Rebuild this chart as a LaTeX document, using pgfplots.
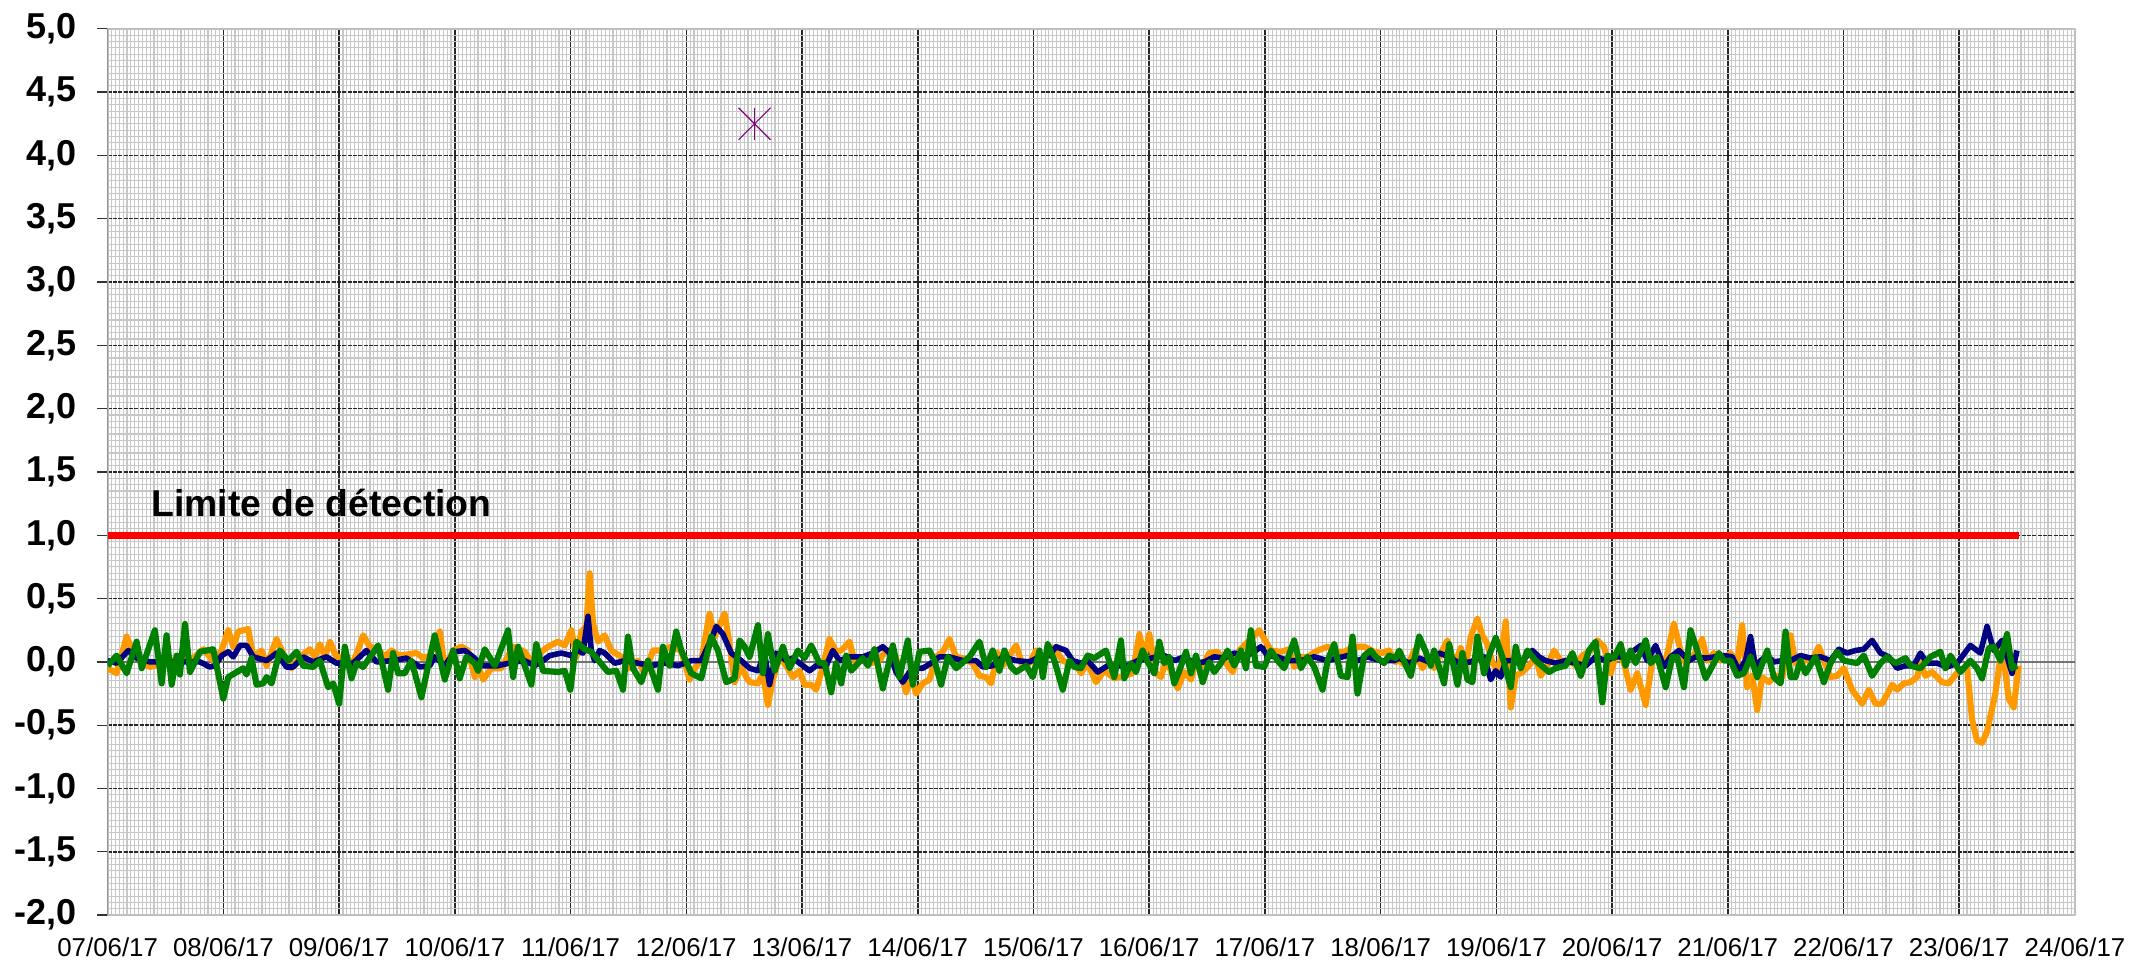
\documentclass[border=0pt]{standalone}
\usepackage{fontspec}
\setmainfont{Liberation Sans}
\usepackage{pgfplots}
\pgfplotsset{compat=1.18}
\definecolor{navyc}{RGB}{0,0,128}
\definecolor{orangec}{RGB}{255,153,0}
\definecolor{greenc}{RGB}{0,128,0}
\definecolor{purplec}{RGB}{128,0,128}
\begin{document}
\begin{tikzpicture}
\begin{axis}[
  at={(0,0)}, anchor=south west,
  scale only axis, width=738pt, height=332.5pt,
  xmin=0, xmax=17, ymin=-2, ymax=5,
  xtick={0,1,...,17},
  xticklabels={07/06/17,08/06/17,09/06/17,10/06/17,11/06/17,12/06/17,13/06/17,14/06/17,15/06/17,16/06/17,17/06/17,18/06/17,19/06/17,20/06/17,21/06/17,22/06/17,23/06/17,24/06/17},
  ytick={-2,-1.5,-1,-0.5,0,0.5,1,1.5,2,2.5,3,3.5,4,4.5,5},
  yticklabels={{-2,0},{-1,5},{-1,0},{-0,5},{0,0},{0,5},{1,0},{1,5},{2,0},{2,5},{3,0},{3,5},{4,0},{4,5},{5,0}},
  minor x tick num=29, minor y tick num=9,
  grid=both,
  minor x grid style={black!22, line width=0.4pt},
  minor y grid style={black!22, line width=0.4pt},
  major x grid style={black!85, line width=0.6pt},
  major y grid style={black!85, line width=0.55pt, dash pattern=on 1.5pt off 0.5pt},
  axis line style={black!25, line width=0.8pt},
  tick align=outside,
  major tick length=4pt, minor tick length=0pt,
  xtick style={draw=none},
  ytick style={black!80, line width=0.5pt},
  ytick pos=left, xtick pos=bottom,
  xticklabel style={font=\fontsize{9.7}{11.6}\selectfont, yshift=-0.9pt},
  yticklabel style={font=\bfseries\fontsize{13.5}{16}\selectfont, xshift=-4.3pt},
  line join=round,
]
\draw[black!55, line width=0.7pt] (axis cs:0,0) -- (axis cs:17,0);
\draw[black!75, line width=0.6pt] (rel axis cs:0,0) -- (rel axis cs:0,1);

\addplot[orangec, line width=2.3pt, line join=round] coordinates {
(0,-0.05) (0.077,-0.09) (0.164,0.2) (0.221,0.07) (0.308,-0.01) (0.365,-0.04) (0.509,0) (0.624,0.03) (0.711,0.01) (0.826,0.1) (0.912,0.01) (0.984,0.09) (1.042,0.25) (1.085,0.12) (1.128,0.24) (1.214,0.26) (1.258,0.04) (1.33,0.09) (1.373,-0.03) (1.459,0.18) (1.531,0.04) (1.589,-0.05) (1.661,0.04) (1.747,0.1) (1.79,0.04) (1.833,0.14) (1.877,0.04) (1.92,0.16) (1.977,0.04) (2.064,0.03) (2.121,-0.01) (2.208,0.21) (2.265,0.12) (2.337,0.1) (2.395,0.04) (2.452,0.09) (2.524,0.05) (2.668,0.07) (2.726,0.03) (2.783,0.05)
(2.87,0.24) (2.913,-0.05) (2.985,0.09) (3.057,0.12) (3.114,0.09) (3.172,-0.12) (3.2,-0.03) (3.244,-0.14) (3.316,-0.05) (3.402,-0.05) (3.503,0.12) (3.604,0.08) (3.661,0) (3.733,0.07) (3.805,0.12) (3.891,0.16) (3.949,0.13) (4.007,0.25) (4.05,0.04) (4.093,0.24) (4.136,0.28) (4.165,0.70) (4.194,0.3) (4.237,0.16) (4.294,0.21) (4.352,0.09) (4.438,0.04) (4.51,-0.05) (4.582,0.01) (4.64,-0.09) (4.712,0.09) (4.784,0.09) (4.87,0.12) (4.956,0.09) (5.028,-0.14) (5.072,-0.05) (5.129,0.01) (5.201,0.38) (5.244,0.2) (5.331,0.38) (5.374,0.14) (5.417,-0.16) (5.475,-0.04) (5.518,-0.12)
(5.547,-0.16) (5.619,-0.17) (5.662,-0.09) (5.705,-0.34) (5.748,-0.14) (5.806,0.04) (5.863,-0.03) (5.921,-0.12) (5.978,-0.07) (6.022,-0.18) (6.079,-0.18) (6.122,-0.22) (6.18,-0.04) (6.237,0.18) (6.295,0.08) (6.338,0.09) (6.381,0.13) (6.41,0.16) (6.453,0.01) (6.525,0.01) (6.583,-0.01) (6.655,0) (6.727,0.09) (6.784,0.1) (6.842,-0.05) (6.9,-0.24) (6.943,-0.12) (6.986,-0.25) (7.043,-0.17) (7.101,-0.14) (7.159,0.04) (7.216,0.08) (7.274,0.18) (7.331,0.04) (7.389,0.03) (7.475,-0.01) (7.533,-0.11) (7.59,-0.12) (7.633,-0.17) (7.691,0.07) (7.734,-0.03) (7.806,0.07) (7.85,0.13) (7.907,-0.03) (7.965,-0.01) (8.022,0.09) (8.08,0) (8.137,0.12) (8.195,0.09) (8.252,0.01) (8.31,-0.01)
(8.353,0) (8.411,-0.09) (8.468,-0.01) (8.54,-0.16) (8.612,-0.07) (8.699,-0.13) (8.785,-0.11) (8.857,-0.09) (8.915,0.22) (8.958,0.04) (9.001,0.22) (9.058,-0.09) (9.102,-0.12) (9.145,0.01) (9.188,-0.07) (9.246,-0.21) (9.303,-0.08) (9.361,-0.14) (9.404,0.01) (9.461,-0.03) (9.519,0.07) (9.591,0.08) (9.663,-0.01) (9.721,-0.08) (9.778,0.09) (9.821,0.13) (9.879,0.18) (9.951,0.25) (10.008,0.16) (10.052,0.09) (10.138,0.08) (10.21,0.1) (10.253,-0.04) (10.311,0.04) (10.368,0.04) (10.455,0.09) (10.541,0.12) (10.627,0.08) (10.685,0.08) (10.771,0.12) (10.858,0.12) (10.944,0.08) (11.001,0.07) (11.073,0.09) (11.131,0)
(11.16,0.01) (11.232,-0.04) (11.289,0.09) (11.361,-0.05) (11.419,0.04) (11.462,-0.05) (11.52,0.07) (11.577,0.17) (11.635,-0.03) (11.692,0.11) (11.735,-0.04) (11.779,0.2) (11.836,0.34) (11.879,0.21) (11.923,0.14) (11.966,-0.01) (12.023,-0.07) (12.081,0.32) (12.124,-0.36) (12.167,-0.11) (12.225,-0.08) (12.282,-0.03) (12.34,0.04) (12.383,-0.11) (12.441,-0.03) (12.498,0.09) (12.556,0.01) (12.628,0.01) (12.685,-0.03) (12.743,0.05) (12.815,0.09) (12.872,0.17) (12.93,0.12) (12.988,-0.09) (13.045,0.09) (13.103,-0.01) (13.16,-0.22) (13.218,-0.09) (13.29,-0.34) (13.347,0.01) (13.391,0.04) (13.463,0.01) (13.534,0.3) (13.592,0.09) (13.635,-0.01) (13.693,0.03) (13.779,0.18) (13.822,0.01) (13.88,0.07) (13.938,0.01)
(14.024,0.07) (14.081,-0.01) (14.124,0.29) (14.167,-0.2) (14.211,-0.11) (14.254,-0.38) (14.297,-0.12) (14.355,-0.16) (14.412,-0.11) (14.47,-0.12) (14.542,0.21) (14.585,-0.01) (14.628,-0.04) (14.671,0.04) (14.714,-0.01) (14.786,0.12) (14.83,0.01) (14.887,-0.12) (14.945,-0.11) (15.002,-0.05) (15.074,-0.22) (15.161,-0.33) (15.218,-0.22) (15.276,-0.33) (15.333,-0.33) (15.42,-0.18) (15.463,-0.22) (15.52,-0.17) (15.578,-0.16) (15.636,-0.12) (15.664,-0.01) (15.708,-0.11) (15.765,-0.08) (15.851,-0.16) (15.909,-0.17) (15.995,-0.07) (16.067,-0.04) (16.11,-0.45) (16.153,-0.62) (16.197,-0.64) (16.24,-0.55) (16.312,-0.25) (16.37,0.13) (16.427,-0.29) (16.47,-0.36) (16.514,-0.03)
};

\addplot[navyc, line width=2.1pt, line join=round] coordinates {
(0,0.01) (0.077,-0.01) (0.178,0.09) (0.25,0.03) (0.365,0) (0.509,0) (0.682,0) (0.797,0) (0.883,-0.04) (0.927,-0.03) (0.984,0.05) (1.042,0.08) (1.085,0.04) (1.143,0.13) (1.2,0.13) (1.258,0.04) (1.373,0.01) (1.459,0.07) (1.545,-0.04) (1.603,-0.04) (1.689,0.04) (1.776,0) (1.891,0.04) (1.977,-0.01) (2.121,-0.01) (2.236,0.09) (2.323,0) (2.466,0.01) (2.582,0.03) (2.697,-0.04) (2.783,-0.03)
(2.826,0.04) (2.913,-0.03) (2.999,0.08) (3.085,0.09) (3.143,0.05) (3.244,-0.03) (3.373,-0.03) (3.517,0) (3.604,0.01) (3.69,-0.03) (3.747,0) (3.819,0.05) (3.92,0.07) (4.007,0.05) (4.064,0.09) (4.107,0.07) (4.15,0.36) (4.179,0.09) (4.208,0.01) (4.251,0.09) (4.294,0.07) (4.381,-0.01) (4.467,0.01) (4.582,-0.01) (4.697,-0.03) (4.813,-0.01) (4.928,-0.03) (5.043,0.01) (5.129,0.01) (5.216,0.18) (5.259,0.28) (5.316,0.22) (5.388,0.07) (5.475,0.01)
(5.547,-0.05) (5.619,-0.07) (5.676,0.07) (5.719,-0.18) (5.777,0.07) (5.863,0.01) (5.921,0.03) (6.007,-0.03) (6.065,-0.07) (6.122,-0.03) (6.209,-0.03) (6.266,0.09) (6.324,0.01) (6.41,0.04) (6.525,0.04) (6.612,0.07) (6.698,0.12) (6.756,0.07) (6.813,-0.08) (6.871,-0.16) (6.928,-0.08) (6.986,-0.05) (7.043,-0.05) (7.115,-0.01) (7.187,0.04) (7.274,0.04) (7.389,0.01) (7.504,0.01) (7.562,-0.04) (7.648,-0.03) (7.734,0.04) (7.85,0.01) (7.965,0) (8.051,0.04) (8.137,0.05) (8.195,0.12) (8.281,0.09) (8.339,0.01)
(8.411,-0.01) (8.468,0.01) (8.555,-0.08) (8.641,-0.03) (8.727,-0.03) (8.814,-0.03) (8.9,0.01) (9.015,0.03) (9.13,0.05) (9.217,0.01) (9.303,0.04) (9.389,-0.01) (9.476,0) (9.562,0.04) (9.649,0.03) (9.735,0.07) (9.821,0.04) (9.908,0.08) (9.965,0.12) (10.023,0.05) (10.109,0.04) (10.195,0.01) (10.311,0.01) (10.426,0.04) (10.541,0.01) (10.627,0.03) (10.714,0.05) (10.8,0.01) (10.886,0.04) (11.001,0.01) (11.117,0.01)
(11.16,0.03) (11.246,-0.01) (11.332,0.03) (11.419,0) (11.505,0.07) (11.592,0.04) (11.678,-0.01) (11.779,0) (11.836,0.03) (11.894,0.04) (11.951,-0.14) (11.994,-0.07) (12.038,-0.12) (12.081,0.01) (12.153,0.01) (12.225,0.01) (12.311,0.09) (12.369,0.04) (12.426,0.01) (12.513,-0.01) (12.599,0.01) (12.685,-0.01) (12.772,-0.03) (12.858,0.04) (12.944,0.01) (13.031,0.04) (13.117,0.04) (13.189,0.09) (13.247,0.13) (13.304,0.01) (13.376,0.13) (13.448,-0.04) (13.506,0.04) (13.578,0.09) (13.664,0.01) (13.722,0.04) (13.808,0.03) (13.894,0.04)
(13.966,0.05) (14.038,0.04) (14.096,-0.07) (14.153,0.01) (14.196,0.2) (14.239,-0.04) (14.283,0.01) (14.34,0.05) (14.398,0) (14.47,0.01) (14.542,0.01) (14.628,0.05) (14.714,0.03) (14.801,0.04) (14.887,0.01) (14.959,0.1) (15.031,0.07) (15.103,0.09) (15.175,0.1) (15.247,0.17) (15.319,0.07) (15.391,0.04) (15.463,-0.05) (15.535,-0.03) (15.607,-0.03) (15.664,0.07) (15.722,-0.01) (15.808,-0.01) (15.895,-0.04) (15.981,-0.01) (16.096,0.13) (16.182,0.07) (16.24,0.28) (16.298,0.09) (16.37,0.17) (16.413,0.04) (16.456,-0.09) (16.499,0.09)
};

\addplot[greenc, line width=2.3pt, line join=round] coordinates {
(0,-0.03) (0.077,0.05) (0.164,-0.09) (0.25,0.16) (0.294,-0.05) (0.408,0.25) (0.466,-0.17) (0.509,0.21) (0.553,-0.18) (0.596,0.05) (0.624,-0.1) (0.668,0.30) (0.711,-0.08) (0.797,0.08) (0.912,0.1) (0.999,-0.29) (1.042,-0.12) (1.171,-0.05) (1.2,-0.1) (1.243,0.03) (1.286,-0.18) (1.344,-0.17) (1.373,-0.12) (1.416,-0.17) (1.488,0.09) (1.56,0.01) (1.632,0.08) (1.689,-0.03) (1.776,-0.04) (1.833,0.01) (1.905,-0.2) (1.949,-0.17) (2.0,-0.33) (2.049,0.12) (2.107,-0.13) (2.15,-0.01) (2.208,-0.04) (2.337,0.13) (2.423,-0.22) (2.466,0.07) (2.509,-0.09) (2.567,-0.09) (2.625,0.01) (2.711,-0.28) (2.783,0.03)
(2.826,0.21) (2.913,-0.14) (2.985,0.09) (3.042,-0.13) (3.1,0.04) (3.172,-0.01) (3.2,-0.07) (3.258,0.1) (3.345,-0.03) (3.46,0.25) (3.503,-0.12) (3.546,0.12) (3.661,-0.18) (3.704,0.14) (3.762,-0.07) (3.892,-0.08) (3.949,-0.07) (3.998,-0.22) (4.05,0.16) (4.122,0.1) (4.179,0.08) (4.323,-0.08) (4.395,-0.07) (4.453,-0.22) (4.496,0.2) (4.539,-0.05) (4.611,-0.16) (4.669,0.01) (4.755,-0.22) (4.798,0.12) (4.856,-0.03) (4.913,0.24) (4.957,0.09) (5.043,-0.09) (5.129,-0.13) (5.216,0.2) (5.273,0.09) (5.345,-0.16) (5.417,-0.13) (5.46,0.17) (5.504,0.12)
(5.547,0.04) (5.619,0.29) (5.662,-0.09) (5.705,0.22) (5.763,-0.07) (5.835,0.12) (5.892,-0.05) (5.964,0.09) (6.022,0.03) (6.079,0.13) (6.151,-0.01) (6.195,-0.01) (6.252,-0.24) (6.295,-0.01) (6.339,-0.17) (6.382,0.05) (6.425,-0.07) (6.525,0.03) (6.569,-0.03) (6.626,0.1) (6.698,-0.21) (6.785,0.13) (6.842,-0.12) (6.914,0.17) (6.957,-0.18) (7.015,0.08) (7.101,0.09) (7.145,0.01) (7.202,-0.18) (7.26,0.04) (7.332,-0.05) (7.447,0.04) (7.533,0.16) (7.591,-0.04) (7.648,0.09) (7.706,-0.07) (7.749,0.09) (7.807,-0.04) (7.85,-0.08) (7.937,-0.03) (7.994,-0.12) (8.052,0.09) (8.081,-0.12) (8.123,0.14) (8.181,0.01) (8.253,-0.22) (8.311,0.01)
(8.353,-0.04) (8.41,-0.05) (8.468,0.05) (8.526,0.03) (8.626,0.09) (8.698,-0.12) (8.756,0.17) (8.785,-0.13) (8.843,-0.01) (8.886,-0.08) (8.943,0.09) (8.986,0) (9.044,-0.09) (9.087,0.16) (9.13,-0.01) (9.173,0.04) (9.217,-0.17) (9.26,-0.07) (9.318,0.08) (9.361,-0.09) (9.404,0.05) (9.462,-0.16) (9.519,0) (9.562,-0.08) (9.62,-0.01) (9.677,0.09) (9.735,-0.03) (9.793,0.09) (9.836,-0.05) (9.879,0.25) (9.922,-0.03) (9.994,-0.04) (10.052,0.09) (10.109,0.01) (10.167,-0.05) (10.253,0.17) (10.311,-0.05) (10.368,0.04) (10.426,-0.04) (10.498,-0.22) (10.541,0.01) (10.599,0.14) (10.656,-0.11) (10.714,-0.12) (10.757,0.2) (10.8,-0.25) (10.858,0.05) (10.915,0.09) (10.958,0.04) (11.03,-0.01) (11.073,0.05) (11.131,0.03)
(11.16,0.09) (11.26,-0.11) (11.333,0.2) (11.39,0.08) (11.433,-0.03) (11.462,0.09) (11.505,-0.04) (11.548,-0.17) (11.592,0.14) (11.664,-0.18) (11.707,0.07) (11.75,-0.14) (11.793,-0.16) (11.836,0.2) (11.894,-0.09) (11.937,0.05) (11.995,0.19) (12.052,0.04) (12.124,-0.2) (12.167,0.12) (12.211,-0.05) (12.268,0.09) (12.34,0.01) (12.455,-0.08) (12.513,-0.05) (12.599,-0.03) (12.657,0.07) (12.729,-0.11) (12.8,0.09) (12.858,0.16) (12.916,-0.32) (12.959,0.05) (13.016,0.03) (13.074,0.14) (13.117,-0.03) (13.16,0.09) (13.203,-0.01) (13.29,0.17) (13.333,-0.01) (13.391,0.04) (13.463,-0.2) (13.52,0.04) (13.563,0.04) (13.621,-0.2) (13.678,0.25) (13.736,0.09) (13.808,-0.13) (13.88,-0.01) (13.923,0.07)
(13.966,0.01) (14.024,0.01) (14.081,-0.11) (14.139,-0.09) (14.197,0.04) (14.254,-0.12) (14.341,0.09) (14.398,-0.12) (14.456,-0.17) (14.499,0.24) (14.542,-0.12) (14.585,-0.12) (14.628,0.01) (14.672,-0.09) (14.758,0.04) (14.83,-0.16) (14.888,-0.01) (14.945,0.08) (15.003,0.01) (15.118,-0.01) (15.175,0.05) (15.247,-0.11) (15.319,-0.01) (15.377,0.04) (15.449,-0.01) (15.535,0.03) (15.578,-0.03) (15.665,-0.05) (15.751,0.04) (15.837,0.08) (15.88,-0.05) (15.924,0.05) (16.01,-0.08) (16.096,0.01) (16.154,-0.05) (16.197,-0.13) (16.255,0.11) (16.298,0.12) (16.355,0.01) (16.413,0.22) (16.456,-0.05) (16.499,-0.03)
};

\addplot[red, line width=2.6pt] coordinates {(0,1) (16.52,1)};

\addplot[only marks, mark=x, mark size=8.5pt, purplec, mark options={line width=0.45pt}] coordinates {(5.59,4.25)};
\addplot[only marks, mark=|, mark size=6pt, purplec, mark options={line width=0.45pt}] coordinates {(5.59,4.25)};

\node[anchor=base west, inner sep=0pt, font=\bfseries\fontsize{14}{16}\selectfont] at (axis cs:0.374,1.145) {Limite de détection};
\end{axis}
\pgfresetboundingbox
\useasboundingbox (-40.4pt,-16.6pt) rectangle (759.4pt,343.3pt);
\end{tikzpicture}
\end{document}
